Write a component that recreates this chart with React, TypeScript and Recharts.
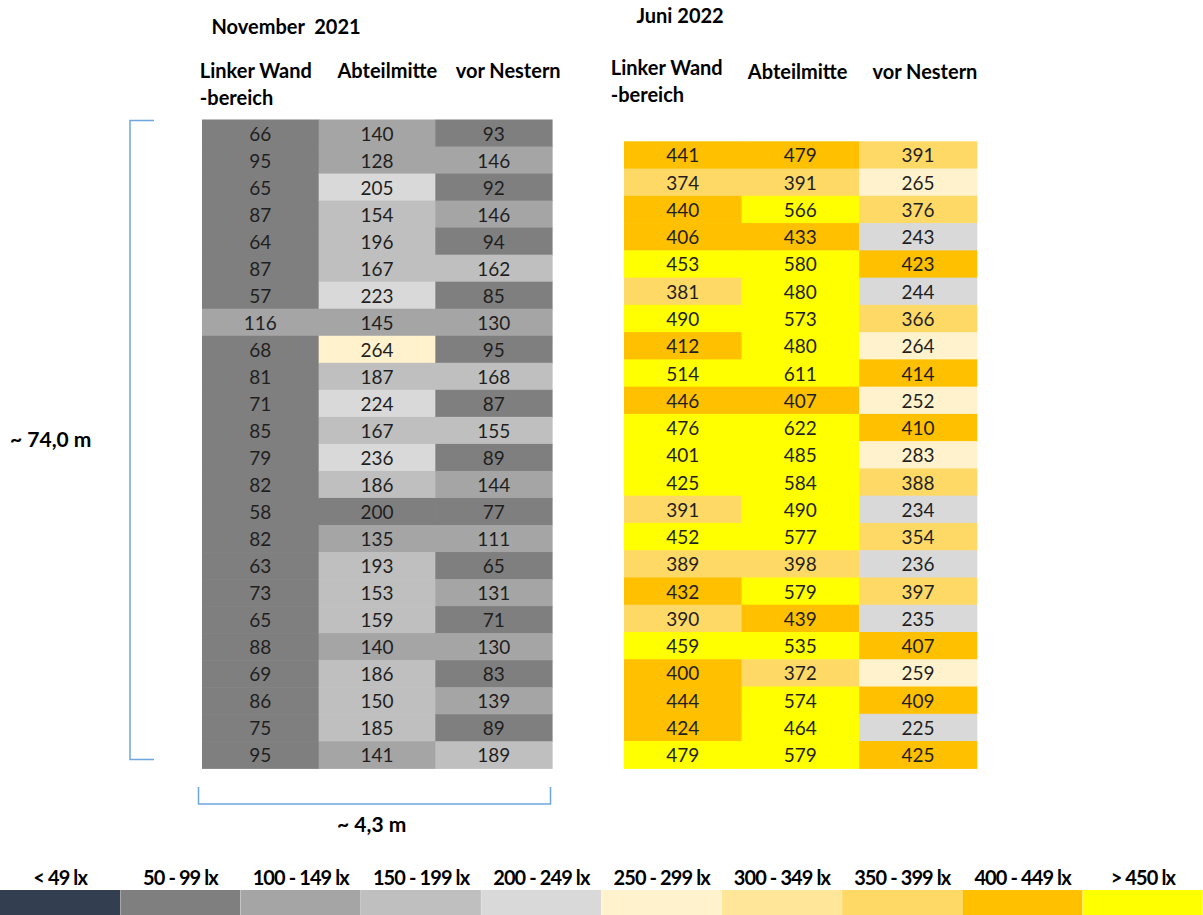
import React from "react";
import { ScatterChart, Scatter, XAxis, YAxis, BarChart, Bar, Cell } from "recharts";

// Lux readings, top to bottom
const novLinker = [66, 95, 65, 87, 64, 87, 57, 116, 68, 81, 71, 85, 79, 82, 58, 82, 63, 73, 65, 88, 69, 86, 75, 95];
const novMitte = [140, 128, 205, 154, 196, 167, 223, 145, 264, 187, 224, 167, 236, 186, 200, 135, 193, 153, 159, 140, 186, 150, 185, 141];
const novNester = [93, 146, 92, 146, 94, 162, 85, 130, 95, 168, 87, 155, 89, 144, 77, 111, 65, 131, 71, 130, 83, 139, 89, 189];

const junLinker = [441, 374, 440, 406, 453, 381, 490, 412, 514, 446, 476, 401, 425, 391, 452, 389, 432, 390, 459, 400, 444, 424, 479];
const junMitte = [479, 391, 566, 433, 580, 480, 573, 480, 611, 407, 622, 485, 584, 490, 577, 398, 579, 439, 535, 372, 574, 464, 579];
const junNester = [391, 265, 376, 243, 423, 244, 366, 264, 414, 252, 410, 283, 388, 234, 354, 236, 397, 235, 407, 259, 409, 225, 425];

// cells whose class in the original differs from the value ("row-col": class index)
const novClassOverride: Record<string, number> = { "14-1": 1 };
const junClassOverride: Record<string, number> = { "0-1": 8, "11-0": 9, "12-0": 9 };

const columnNames = ["Linker Wand\n-bereich", "Abteilmitte", "vor Nestern"];
const legendLabels = ["< 49 lx", "50 - 99 lx", "100 - 149 lx", "150 - 199 lx", "200 - 249 lx", "250 - 299 lx", "300 - 349 lx", "350 - 399 lx", "400 - 449 lx", "> 450 lx"];

const CLASS_COLORS = ["#333F50", "#7F7F7F", "#A5A5A5", "#BFBFBF", "#D9D9D9", "#FFF2CC", "#FFE699", "#FFD966", "#FFC000", "#FFFF00"];
const FONT = "Lato, 'Open Sans', sans-serif";
const BLUE = "#6FA6DE";

const classOf = (v: number) => (v < 50 ? 0 : v >= 450 ? 9 : Math.floor(v / 50));

function buildCells(cols: number[][], overrides: Record<string, number>) {
  const out: { col: number; row: number; value: number; cls: number }[] = [];
  cols.forEach((vals, c) =>
    vals.forEach((v, r) => {
      const key = `${r}-${c}`;
      out.push({ col: c, row: r, value: v, cls: key in overrides ? overrides[key] : classOf(v) });
    })
  );
  return out;
}

const novCells = buildCells([novLinker, novMitte, novNester], novClassOverride);
const junCells = buildCells([junLinker, junMitte, junNester], junClassOverride);

type TableProps = {
  cells: typeof novCells;
  rows: number;
  left: number;
  width: number;
  plot: { x0: number; x1: number; y0: number; y1: number };
  headerDx: number[];
  headerY: number[];
};

const AXIS_H = 80;

function HeatTable({ cells, rows, left, width, plot, headerDx, headerY }: TableProps) {
  const height = 800;
  const cw = (plot.x1 - plot.x0) / 3;
  const ch = (plot.y1 - plot.y0) / rows;
  const margin = {
    left: plot.x0 - left,
    right: left + width - plot.x1,
    top: plot.y0 - AXIS_H,
    bottom: height - plot.y1,
  };

  const HeaderTick = (p: any) => {
    const i = p.index ?? p.payload.value;
    const lines = columnNames[i].split("\n");
    return (
      <text x={p.x + headerDx[i]} y={headerY[i]} fontFamily={FONT} fontWeight={700} fontSize={20} fill="#000" textAnchor="start">
        {lines.map((l, k) => (
          <tspan key={k} x={p.x + headerDx[i]} dy={k === 0 ? 0 : 27}>
            {l}
          </tspan>
        ))}
      </text>
    );
  };

  const CellShape = (p: any) => {
    const d = p.payload;
    return (
      <g>
        <rect x={p.cx - cw / 2} y={p.cy - ch / 2} width={cw + 0.6} height={ch + 0.6} fill={CLASS_COLORS[d.cls]} />
        <text x={p.cx} y={p.cy} dy={7.5} textAnchor="middle" fontFamily={FONT} fontSize={19} fill="#1f1f1f">
          {d.value}
        </text>
      </g>
    );
  };

  return (
    <div style={{ position: "absolute", left, top: 0 }}>
      <ScatterChart width={width} height={height} margin={margin}>
        <XAxis
          type="number"
          dataKey="col"
          orientation="top"
          domain={[-0.5, 2.5]}
          ticks={[0, 1, 2]}
          interval={0}
          height={AXIS_H}
          axisLine={false}
          tickLine={false}
          tick={<HeaderTick />}
        />
        <YAxis type="number" dataKey="row" domain={[-0.5, rows - 0.5]} reversed hide />
        <Scatter data={cells} shape={<CellShape />} isAnimationActive={false} />
      </ScatterChart>
    </div>
  );
}

const legendData = legendLabels.map((label, i) => ({ label, v: 1, cls: i }));

function LegendBar() {
  const LegendTick = (p: any) => (
    <text x={p.x} y={885} textAnchor="middle" fontFamily={FONT} fontWeight={700} fontSize={20} letterSpacing={-0.9} fill="#000">
      {p.payload.value}
    </text>
  );
  return (
    <div style={{ position: "absolute", left: 0, top: 0 }}>
      <BarChart
        width={1203}
        height={915}
        data={legendData}
        margin={{ top: 860, right: 0, bottom: 0, left: 0 }}
        barCategoryGap={0}
        barGap={0}
      >
        <XAxis dataKey="label" orientation="top" height={30} axisLine={false} tickLine={false} interval={0} tick={<LegendTick />} />
        <YAxis type="number" domain={[0, 1]} hide />
        <Bar dataKey="v" isAnimationActive={false}>
          {legendData.map((d) => (
            <Cell key={d.label} fill={CLASS_COLORS[d.cls]} />
          ))}
        </Bar>
      </BarChart>
    </div>
  );
}

export default function App() {
  return (
    <div style={{ position: "absolute", left: 0, top: 0, width: 1203, height: 915, background: "#fff", overflow: "hidden" }}>
      <LegendBar />
      <HeatTable
        cells={novCells}
        rows={24}
        left={0}
        width={600}
        plot={{ x0: 202, x1: 552, y0: 119.5, y1: 768.3 }}
        headerDx={[-60.5, -39.5, -38]}
        headerY={[77.5, 77.5, 77.5]}
      />
      <HeatTable
        cells={junCells}
        rows={23}
        left={600}
        width={603}
        plot={{ x0: 624, x1: 976.7, y0: 141.3, y1: 768.3 }}
        headerDx={[-72, -52.5, -45.5]}
        headerY={[75, 78.5, 78.5]}
      />
      <svg width={1203} height={915} style={{ position: "absolute", left: 0, top: 0, pointerEvents: "none" }}>
        <text x={211.5} y={33.5} fontFamily={FONT} fontWeight={700} fontSize={20} fill="#000" style={{ whiteSpace: "pre" }}>
          November  2021
        </text>
        <text x={636.5} y={22.5} fontFamily={FONT} fontWeight={700} fontSize={20} fill="#000">
          Juni 2022
        </text>
        <path d="M154 120.5 H130 V759.5 H154" fill="none" stroke={BLUE} strokeWidth={1.5} />
        <path d="M198.5 787 V804 H550.5 V787" fill="none" stroke={BLUE} strokeWidth={1.5} />
        <text x={10} y={447} fontFamily={FONT} fontWeight={700} fontSize={21} fill="#000">
          ~ 74,0 m
        </text>
        <text x={337} y={832} fontFamily={FONT} fontWeight={700} fontSize={21} fill="#000">
          ~ 4,3 m
        </text>
      </svg>
    </div>
  );
}
